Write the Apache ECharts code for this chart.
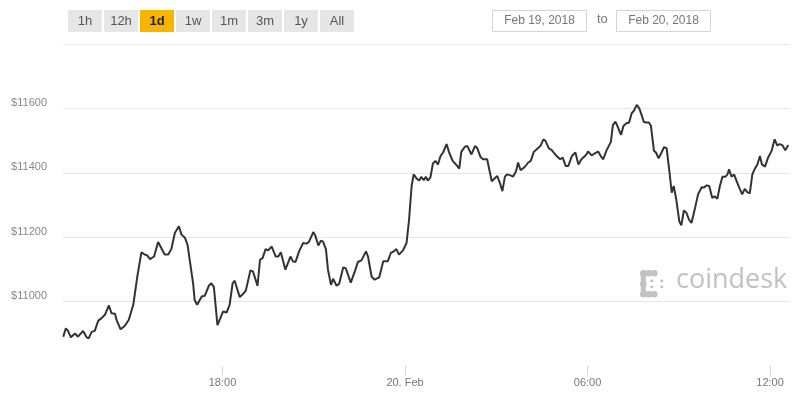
<!DOCTYPE html>
<html><head><meta charset="utf-8">
<script src="https://cdn.jsdelivr.net/npm/echarts@6/dist/echarts.min.js"></script>
<style>html,body{margin:0;padding:0;background:#fff}#c{width:800px;height:400px}</style>
</head><body><div id="c"></div>
<script>
// ---- data ----
const feb19Times = ['12:46','12:51','12:55','13:01','13:09','13:15','13:25','13:32','13:36','13:42','13:48','13:55','14:01','14:08','14:16','14:21','14:28','14:31','14:39','14:47','14:55','15:04','15:12','15:20','15:27','15:31','15:37','15:45','15:53','15:56','16:06','16:13','16:19','16:26','16:34','16:39','16:46','16:51','16:59','17:02','17:05','17:10','17:19','17:25','17:33','17:38','17:43','17:50','17:53','18:01','18:08','18:14','18:20','18:24','18:34','18:39','18:46','18:50','18:55','19:00','19:09','19:14','19:19','19:25','19:30','19:37','19:40','19:45','19:50','19:55','20:04','20:14','20:19','20:24','20:31','20:39','20:46','20:51','20:59','21:03','21:09','21:14','21:18','21:24','21:28','21:34','21:38','21:45','21:50','21:58','22:03','22:13','22:21','22:27','22:34','22:37','22:43','22:47','22:54','23:00','23:09','23:17','23:20','23:26','23:32','23:38','23:43','23:48','23:56'];
const feb19Prices = [10891,10917,10910,10889,10901,10891,10909,10889,10886,10906,10909,10941,10948,10959,10988,10964,10962,10943,10914,10924,10943,10990,11078,11153,11146,11144,11132,11140,11185,11187,11146,11146,11163,11213,11234,11208,11198,11177,11089,11057,11005,10990,11016,11018,11049,11057,11045,10927,10938,10969,10966,10990,11057,11065,11014,11021,11034,11062,11097,11094,11049,11130,11135,11163,11159,11171,11170,11140,11140,11153,11099,11140,11125,11123,11156,11182,11180,11187,11216,11205,11174,11189,11187,11163,11099,11052,11071,11049,11055,11106,11104,11059,11094,11123,11128,11130,11156,11140,11078,11068,11075,11125,11130,11125,11151,11156,11163,11146,11159];
const feb20Times = ['00:03','00:08','00:13','00:17','00:23','00:28','00:32','00:37','00:41','00:45','00:50','00:55','01:00','01:05','01:10','01:15','01:22','01:27','01:34','01:42','01:47','01:51','01:58','02:03','02:11','02:18','02:22','02:29','02:34','02:42','02:51','02:55','03:02','03:07','03:12','03:17','03:21','03:28','03:33','03:39','03:43','03:48','03:56','04:03','04:08','04:14','04:23','04:27','04:33','04:37','04:44','04:49','04:52','04:59','05:06','05:11','05:17','05:22','05:29','05:36','05:42','05:48','05:51','05:57','06:01','06:08','06:14','06:21','06:26','06:31','06:37','06:46','06:50','06:55','07:00','07:06','07:11','07:17','07:22','07:27','07:31','07:37','07:42','07:46','07:51','07:56','08:01','08:05','08:11','08:15','08:20','08:26','08:31','08:36','08:41','08:46','08:50','08:55','09:01','09:05','09:10','09:15','09:20','09:25','09:32','09:38','09:45','09:50','09:55','10:00','10:06','10:11','10:16','10:21','10:26','10:32','10:36','10:39','10:44','10:49','10:54','10:59','11:05','11:10','11:15','11:20','11:25','11:30','11:35','11:40','11:44','11:50','11:56','12:03','12:09','12:14','12:19','12:24','12:30','12:36'];
const feb20Prices = [11182,11255,11359,11395,11382,11376,11387,11377,11388,11376,11385,11429,11437,11426,11452,11463,11489,11463,11437,11423,11413,11465,11481,11483,11457,11483,11478,11449,11442,11442,11374,11380,11390,11369,11343,11388,11395,11392,11388,11405,11432,11408,11418,11432,11437,11465,11478,11483,11504,11499,11475,11471,11475,11452,11442,11447,11421,11421,11452,11463,11426,11442,11447,11455,11466,11454,11460,11466,11452,11442,11468,11496,11548,11559,11541,11518,11546,11554,11556,11585,11592,11611,11600,11582,11558,11556,11556,11546,11468,11463,11445,11463,11480,11476,11411,11338,11359,11317,11249,11237,11283,11276,11255,11244,11291,11333,11355,11354,11361,11359,11322,11327,11319,11359,11388,11388,11395,11411,11388,11395,11374,11355,11333,11350,11340,11336,11395,11413,11426,11452,11426,11419,11447,11468,11504,11485,11489,11486,11470,11486];
const yMin = 10800, yMax = 11800, yStep = 200;
const axisStart = '2018-02-19T12:45:24', axisEnd = '2018-02-20T12:39:18';
const xTickTimes = ['2018-02-19T18:00:00', '2018-02-20T00:00:00', '2018-02-20T06:00:00', '2018-02-20T12:00:00'];
const rangeButtons = ['1h','12h','1d','1w','1m','3m','1y','All'];
const selectedRange = '1d';
const fromDate = 'Feb 19, 2018', toDate = 'Feb 20, 2018';
const brand = 'coindesk';

// ---- build ----
const ts = s => new Date(s).getTime();
const series = feb19Times.map((t, i) => [ts('2018-02-19T' + t + ':00'), feb19Prices[i]])
  .concat(feb20Times.map((t, i) => [ts('2018-02-20T' + t + ':00'), feb20Prices[i]]));
const xTickValues = xTickTimes.map(ts);

const pad = n => (n < 10 ? '0' : '') + n;
const font = '"Liberation Sans", Arial, sans-serif';

const graphics = [];
rangeButtons.forEach((b, i) => {
  const sel = b === selectedRange;
  graphics.push({
    type: 'group', left: 68 + i * 36, top: 10, z: 10,
    children: [
      { type: 'rect', shape: { x: 0, y: 0, width: 34, height: 22 }, style: { fill: sel ? '#f7b500' : '#e6e6e6' } },
      { type: 'text', x: 17, y: 11, style: { text: b, fill: sel ? '#222' : '#555', font: (sel ? 'bold ' : '') + '13px ' + font, align: 'center', verticalAlign: 'middle' } }
    ]
  });
});
[[492, fromDate], [616, toDate]].forEach(([x, txt]) => {
  graphics.push({
    type: 'group', left: x, top: 10, z: 10,
    children: [
      { type: 'rect', shape: { x: 0.5, y: 0.5, width: 94, height: 21 }, style: { fill: '#fff', stroke: '#d4d4d4', lineWidth: 1 } },
      { type: 'text', x: 47.5, y: 11, style: { text: txt, fill: '#777', font: '12px ' + font, align: 'center', verticalAlign: 'middle' } }
    ]
  });
});
graphics.push({ type: 'text', left: 597, top: 13, z: 10, style: { text: 'to', fill: '#777', font: '13px ' + font } });

// watermark
const wm = '#c2c2c2';
graphics.push({
  type: 'group', left: 640, top: 270, z: 0,
  children: [
    { type: 'rect', shape: { x: 1, y: 1, width: 16, height: 5, r: 2.5 }, style: { fill: wm } },
    { type: 'rect', shape: { x: 1, y: 1, width: 5, height: 26, r: 2.5 }, style: { fill: wm } },
    { type: 'rect', shape: { x: 1, y: 22, width: 16, height: 5, r: 2.5 }, style: { fill: wm } },
    { type: 'circle', shape: { cx: 3.5, cy: 3.5, r: 3.3 }, style: { fill: wm } },
    { type: 'circle', shape: { cx: 9, cy: 3.5, r: 3.3 }, style: { fill: wm } },
    { type: 'circle', shape: { cx: 14.5, cy: 3.5, r: 3.3 }, style: { fill: wm } },
    { type: 'circle', shape: { cx: 3.5, cy: 14, r: 3.3 }, style: { fill: wm } },
    { type: 'circle', shape: { cx: 3.5, cy: 24.5, r: 3.3 }, style: { fill: wm } },
    { type: 'circle', shape: { cx: 9, cy: 24.5, r: 3.3 }, style: { fill: wm } },
    { type: 'circle', shape: { cx: 14.5, cy: 24.5, r: 3.3 }, style: { fill: wm } },
    { type: 'circle', shape: { cx: 12, cy: 11, r: 1.5 }, style: { fill: wm } },
    { type: 'circle', shape: { cx: 12, cy: 17, r: 1.5 }, style: { fill: wm } },
    { type: 'circle', shape: { cx: 22, cy: 11, r: 1.5 }, style: { fill: wm } },
    { type: 'circle', shape: { cx: 22, cy: 17, r: 1.5 }, style: { fill: wm } }
  ]
});
graphics.push({ type: 'text', left: 676, top: 267, z: 0, style: { text: brand, fill: wm, font: '27px "Open Sans", sans-serif' } });

const chart = echarts.init(document.getElementById('c'), null, { renderer: 'canvas' });
chart.setOption({
  animation: false,
  backgroundColor: '#fff',
  grid: { left: 63, right: 10, top: 44, bottom: 34, containLabel: false },
  xAxis: {
    type: 'value',
    min: ts(axisStart),
    max: ts(axisEnd),
    axisLine: { show: false },
    axisTick: { show: true, length: 9, customValues: xTickValues, lineStyle: { color: '#ccd6eb', width: 1 } },
    splitLine: { show: false },
    axisLabel: {
      customValues: xTickValues,
      color: '#777', fontSize: 11, fontFamily: font, margin: 11,
      formatter: v => { const d = new Date(v); const h = d.getHours(), m = d.getMinutes();
        return (h === 0 && m === 0) ? d.getDate() + '. Feb' : pad(h) + ':' + pad(m); }
    }
  },
  yAxis: {
    type: 'value', min: yMin, max: yMax, interval: yStep,
    axisLine: { show: false }, axisTick: { show: false },
    splitLine: { show: true, showMinLine: false, lineStyle: { color: '#e6e6e6', width: 1 } },
    axisLabel: {
      showMinLabel: false, showMaxLabel: false,
      color: '#888', fontSize: 11, fontFamily: font, margin: 16,
      verticalAlign: 'bottom', lineHeight: 11,
      formatter: v => '$' + v
    }
  },
  series: [{
    type: 'line', data: series, showSymbol: false, z: 5,
    lineStyle: { color: '#333', width: 2 }
  }],
  graphic: graphics
});
</script></body></html>
